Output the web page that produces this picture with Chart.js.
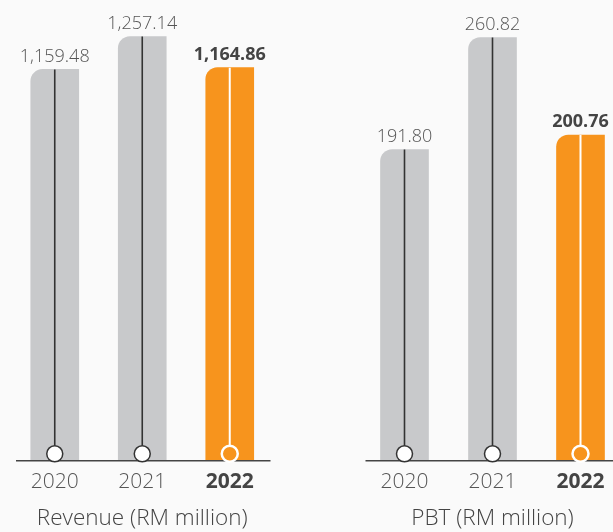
<!DOCTYPE html>
<html lang="en">
<head>
    <meta charset="UTF-8">
    <meta name="viewport" content="width=device-width, initial-scale=1.0">
    <title>Revenue and PBT</title>
    <style>
        html, body {
            margin: 0;
            padding: 0;
            background: #fafafa;
            overflow: hidden;
        }
        #wrap {
            position: relative;
            width: 613px;
            height: 532px;
            overflow: hidden;
        }
        #wrap canvas {
            position: absolute;
            top: 0;
        }
        #revenueChart { left: 0; }
        #pbtChart { left: 300px; }
    </style>
    <script src="https://cdn.jsdelivr.net/npm/chart.js"></script>
</head>
<body>
    <div id="wrap">
        <canvas id="revenueChart" width="290" height="532"></canvas>
        <canvas id="pbtChart" width="340" height="532"></canvas>
    </div>

    <script>
        const years = ['2020', '2021', '2022'];
        const revenue = [1159.48, 1257.14, 1164.86];
        const pbt = [191.80, 260.82, 200.76];
        const revenueTitle = 'Revenue (RM million)';
        const pbtTitle = 'PBT (RM million)';

        const GREY = '#c8c9cb';
        const ORANGE = '#f7941d';
        const TEXT = '#555555';
        const FONT = "'Open Sans', Lato, sans-serif";

        // last year is highlighted
        const isCurrent = i => i === years.length - 1;

        const fmt = v => v.toLocaleString('en-US', { minimumFractionDigits: 2, maximumFractionDigits: 2 });

        // stem line, baseline marker and value label for every bar
        const stemPlugin = {
            id: 'stems',
            afterDatasetsDraw(chart) {
                const ctx = chart.ctx;
                const area = chart.chartArea;
                const meta = chart.getDatasetMeta(0);
                const data = chart.data.datasets[0].data;
                const r = 8;

                ctx.save();
                // baseline
                ctx.strokeStyle = '#444';
                ctx.lineWidth = 1.5;
                ctx.beginPath();
                ctx.moveTo(area.left + 5, area.bottom);
                ctx.lineTo(area.right - 3, area.bottom);
                ctx.stroke();

                meta.data.forEach((bar, i) => {
                    const cy = area.bottom - 7;
                    const hot = isCurrent(i);

                    ctx.strokeStyle = hot ? '#ffffff' : '#333333';
                    ctx.lineWidth = hot ? 2 : 1.6;
                    ctx.beginPath();
                    ctx.moveTo(bar.x, bar.y);
                    ctx.lineTo(bar.x, cy - r);
                    ctx.stroke();

                    ctx.beginPath();
                    ctx.arc(bar.x, cy, r, 0, Math.PI * 2);
                    ctx.fillStyle = hot ? ORANGE : '#ffffff';
                    ctx.fill();
                    ctx.lineWidth = hot ? 2.5 : 1.5;
                    ctx.strokeStyle = hot ? '#ffffff' : '#333333';
                    ctx.stroke();

                    ctx.font = (hot ? 'bold ' : '300 ') + '18px ' + FONT;
                    ctx.fillStyle = hot ? '#444444' : TEXT;
                    ctx.textAlign = 'center';
                    ctx.textBaseline = 'middle';
                    ctx.fillText(fmt(data[i]), bar.x, bar.y - 13);
                });
                ctx.restore();
            }
        };

        function makeChart(id, values, title, yMax, padLeft, padRight) {
            const ctx = document.getElementById(id).getContext('2d');
            return new Chart(ctx, {
                type: 'bar',
                data: {
                    labels: years,
                    datasets: [{
                        data: values,
                        backgroundColor: values.map((v, i) => isCurrent(i) ? ORANGE : GREY),
                        borderRadius: { topLeft: 12, topRight: 0, bottomLeft: 0, bottomRight: 0 },
                        borderSkipped: 'start',
                        barThickness: 48
                    }]
                },
                options: {
                    responsive: false,
                    animation: false,
                    layout: {
                        padding: { top: 20, left: padLeft, right: padRight, bottom: 0 }
                    },
                    plugins: {
                        legend: { display: false },
                        tooltip: { enabled: false }
                    },
                    scales: {
                        y: {
                            display: false,
                            min: 0,
                            max: yMax
                        },
                        x: {
                            grid: { display: false, drawTicks: false },
                            border: { display: false },
                            ticks: {
                                padding: 9,
                                color: c => isCurrent(c.index) ? '#444444' : TEXT,
                                font: c => ({
                                    family: FONT,
                                    size: 21,
                                    weight: isCurrent(c.index) ? 'bold' : '300'
                                })
                            },
                            title: {
                                display: true,
                                text: title,
                                color: '#444444',
                                padding: { top: 1, bottom: 0 },
                                font: { family: FONT, size: 22.5, weight: '300' }
                            }
                        }
                    }
                },
                plugins: [stemPlugin]
            });
        }

        makeChart('revenueChart', revenue, revenueTitle, 1306, 11, 16.5);
        makeChart('pbtChart', pbt, pbtTitle, 271.6, 60.5, 15.5);
    </script>
</body>
</html>
